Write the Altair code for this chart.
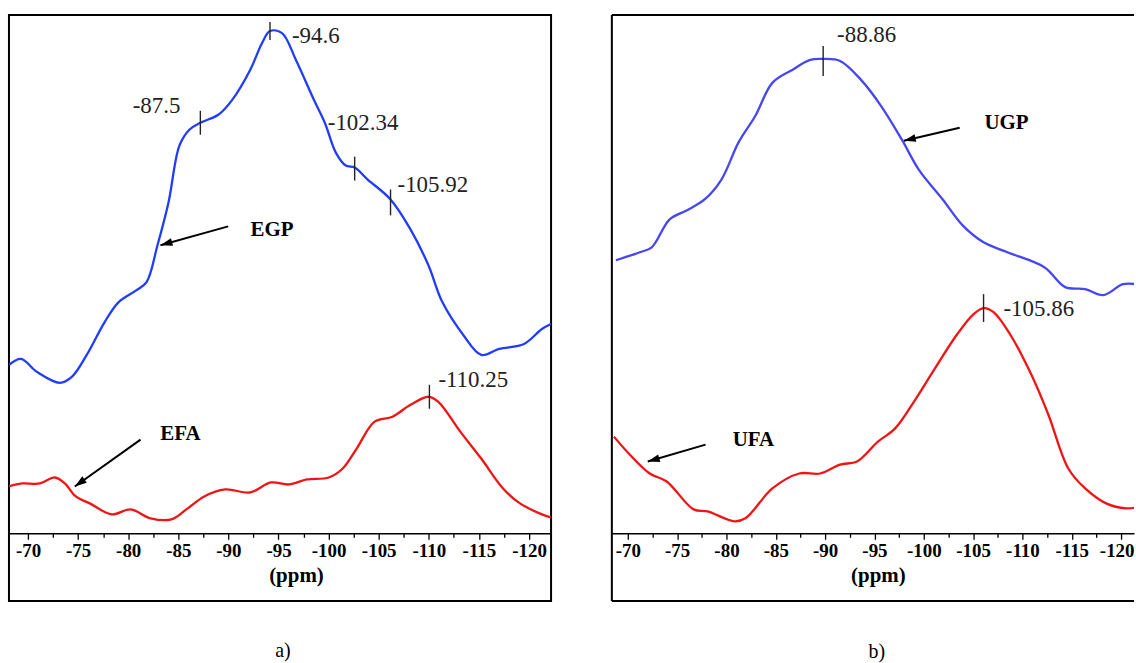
import altair as alt
import pandas as pd

# ---------------- data (intensity in arbitrary units) ----------------
# panel a)
egp_ppm = [-68.11, -69.30, -70.89, -73.18, -74.37, -75.86, -77.65, -79.05, -80.83, -81.83,
           -82.92, -84.02, -85.11, -86.10, -87.20, -88.99, -90.38, -92.17, -93.36, -94.15,
           -95.35, -96.74, -98.53, -99.62, -100.72, -101.71, -102.60, -103.90, -106.18, -108.17,
           -109.96, -111.35, -113.44, -115.23, -117.02, -119.50, -121.29, -122.19]
egp_int = [169, 175, 162, 151, 157, 179, 212, 232, 244, 252,
           289, 332, 389, 405, 412, 420, 435, 465, 492, 504,
           502, 475, 435, 412, 382, 369, 367, 355, 335, 305,
           269, 232, 199, 179, 185, 190, 205, 210]

efa_ppm = [-68.11, -69.40, -71.19, -72.68, -73.68, -74.77, -76.16, -78.35, -80.24, -82.23,
           -84.31, -85.80, -87.59, -89.68, -92.17, -94.25, -96.04, -97.83, -100.02, -101.41,
           -102.80, -104.59, -106.38, -108.17, -109.96, -110.95, -113.14, -115.23, -117.41, -119.10,
           -121.29, -122.19]
efa_int = [47, 50, 50, 56, 50, 37, 30, 19, 24, 15,
           14, 24, 37, 44, 41, 51, 49, 54, 56, 65,
           85, 112, 117, 129, 137, 132, 102, 75, 45, 30,
           19, 16]

# panel b)
ugp_ppm = [-68.79, -71.21, -72.42, -74.24, -75.96, -77.78, -79.49, -81.21, -82.93, -84.65,
           -86.67, -88.48, -89.80, -91.52, -93.64, -95.66, -97.78, -99.49, -101.92, -103.94,
           -106.06, -108.48, -112.22, -114.34, -116.36, -118.18, -120.20, -121.52]
ugp_int = [274, 282, 287, 315, 324, 335, 355, 392, 419, 452,
           465, 475, 476, 474, 455, 429, 395, 365, 335, 309,
           292, 282, 267, 247, 245, 239, 250, 250]

ufa_ppm = [-68.59, -70.10, -72.22, -73.94, -76.67, -78.08, -80.81, -81.92, -84.65, -87.37,
           -89.49, -91.52, -93.23, -95.35, -97.07, -99.19, -100.91, -103.33, -105.05, -106.06,
           -107.07, -108.79, -110.91, -112.63, -114.65, -116.36, -118.48, -120.51, -121.52]
ufa_int = [97, 80, 60, 52, 24, 22, 12, 15, 45, 60,
           60, 69, 72, 92, 105, 135, 162, 199, 220, 226,
           222, 199, 159, 119, 65, 45, 30, 25, 26]

# peak markers
a_peak_labels = ["-94.6", "-87.5", "-102.34", "-105.92", "-110.25"]
a_peak_ppm = [-94.15, -87.20, -102.60, -106.18, -110.06]
a_peak_int = [504, 412, 366, 332, 137]
b_peak_labels = ["-88.86", "-105.86"]
b_peak_ppm = [-89.80, -106.06]
b_peak_int = [474, 226]

# arrows with series names
a_names = ["EGP", "EFA"]
a_tail_ppm = [-89.98, -81.23]
a_tail_int = [308, 94]
a_tip_ppm = [-83.22, -74.67]
a_tip_int = [289, 47]
a_name_ppm = [-94.35, -85.21]
a_name_int = [304, 100]

b_names = ["UGP", "UFA"]
b_tail_ppm = [-103.64, -77.88]
b_tail_int = [407, 89]
b_tip_ppm = [-97.98, -72.02]
b_tip_int = [394, 72]
b_name_ppm = [-108.38, -82.73]
b_name_int = [412, 94]

tick_values = [-70, -72.5, -75, -77.5, -80, -82.5, -85, -87.5, -90, -92.5, -95,
               -97.5, -100, -102.5, -105, -107.5, -110, -112.5, -115, -117.5, -120]

# ---------------- styles ----------------
SERIF = "Liberation Serif"
BLUE_A = "#1f3cff"
BLUE_B = "#4646f2"
RED = "#f01414"
PEAK_STYLE = {  # half-length of the marker, text offsets, alignment
    "-94.6": (9, 22, 5, "left"),
    "-87.5": (12, -20, -17, "right"),
    "-102.34": (12, -27, -46, "left"),
    "-105.92": (13, 7, -17, "left"),
    "-110.25": (12, 9, -17, "left"),
    "-88.86": (15, 14, -26, "left"),
    "-105.86": (14, 20, 1, "left"),
}
ARROW_ANGLE = {"EGP": 254.4, "EFA": 234.5, "UGP": 256.9, "UFA": 253.7}
HEAD = "M0,0L1.3,4L-1.3,4Z"
H = 588
Y_DOMAIN = [-68, 520]
AXIS_OFFSET = -(H - H * Y_DOMAIN[1] / (Y_DOMAIN[1] - Y_DOMAIN[0]))


def panel(curves, peaks, arrows, x_domain, width, caption, cap_dx, title_x, framed):
    xs = alt.Scale(domain=x_domain, nice=False, zero=False)
    ys = alt.Scale(domain=Y_DOMAIN, nice=False, zero=False)
    axis = alt.Axis(
        values=tick_values, offset=AXIS_OFFSET,
        grid=False, domainColor="black", domainWidth=1.6, tickColor="black", tickWidth=1.3,
        tickSize={"condition": {"test": "datum.value % 5 === 0", "value": 6}, "value": 4},
        labelExpr="datum.value % 5 === 0 ? '-' + abs(datum.value) : ''",
        labelFont=SERIF, labelFontSize=19, labelFontWeight="bold", labelColor="black",
        labelPadding=2, labelOverlap=False, labelFlush=14, labelFlushOffset=13,
        title="(ppm)", titleFont=SERIF, titleFontSize=21, titleFontWeight="bold",
        titleColor="black", titlePadding=4, titleX=title_x,
    )

    def X(field):
        return alt.X(field, type="quantitative", scale=xs, axis=axis)

    def Y(field):
        return alt.Y(field, type="quantitative", scale=ys, axis=None)

    layers = []
    for ppm, inten, color in curves:
        df = pd.DataFrame({"ppm": ppm, "v": inten})
        layers.append(
            alt.Chart(df).mark_line(color=color, strokeWidth=2.3, clip=True,
                                    interpolate="catmull-rom").encode(x=X("ppm"), y=Y("v"))
        )
    labels, pp, pv = peaks
    halves = [PEAK_STYLE[l][0] for l in labels]
    pdf = pd.DataFrame({"label": labels, "ppm": pp, "v": pv, "half": halves})
    pdf["lo"] = pdf["v"] - pdf["half"]
    pdf["hi"] = pdf["v"] + pdf["half"]
    layers.append(
        alt.Chart(pdf).mark_rule(color="#222222", strokeWidth=1.4).encode(
            x=X("ppm"), y=Y("lo"), y2="hi:Q")
    )
    for i, lab in enumerate(labels):
        _, dx, dy, align = PEAK_STYLE[lab]
        layers.append(
            alt.Chart(pdf.iloc[[i]]).mark_text(
                font=SERIF, fontSize=23, color="#222222", align=align, baseline="middle", dx=dx, dy=dy
            ).encode(x=X("ppm"), y=Y("v"), text="label:N")
        )
    names, tp, ti, hp, hi, npp, ni = arrows
    adf = pd.DataFrame({"name": names, "tp": tp, "ti": ti, "hp": hp, "hi": hi, "np": npp, "ni": ni,
                        "ang": [ARROW_ANGLE[n] for n in names]})
    layers.append(
        alt.Chart(adf).mark_rule(color="black", strokeWidth=2).encode(
            x=X("tp"), x2="hp:Q", y=Y("ti"), y2="hi:Q")
    )
    layers.append(
        alt.Chart(adf).mark_point(shape=HEAD, filled=True, size=36, color="black", opacity=1).encode(
            x=X("hp"), y=Y("hi"), angle=alt.Angle("ang:Q", scale=None))
    )
    layers.append(
        alt.Chart(adf).mark_text(font=SERIF, fontSize=21, fontWeight="bold", color="black",
                                 align="center", baseline="middle").encode(
            x=X("np"), y=Y("ni"), text="name:N")
    )
    if not framed:
        one = pd.DataFrame({"k": [0]})
        frame = alt.Chart(one).mark_rule(color="black", strokeWidth=2)
        layers.append(frame.encode(x=alt.value(0), x2=alt.value(width), y=alt.value(0)))
        layers.append(frame.encode(x=alt.value(0), y=alt.value(0), y2=alt.value(H)))
        layers.append(frame.encode(x=alt.value(0), x2=alt.value(width), y=alt.value(H)))
    props = dict(
        width=width, height=H,
        title=alt.TitleParams(text=caption, orient="bottom", anchor="middle", font=SERIF,
                              fontSize=20, fontWeight="normal", color="black", offset=40, dx=cap_dx),
    )
    if not framed:
        props["view"] = alt.ViewBackground(stroke="transparent")
    return alt.layer(*layers).properties(**props)


left = panel(
    [(egp_ppm, egp_int, BLUE_A), (efa_ppm, efa_int, RED)],
    (a_peak_labels, a_peak_ppm, a_peak_int),
    (a_names, a_tail_ppm, a_tail_int, a_tip_ppm, a_tip_int, a_name_ppm, a_name_int),
    [-68.1, -122.2], 544, "a)", 3, 288, True,
)
right = panel(
    [(ugp_ppm, ugp_int, BLUE_B), (ufa_ppm, ufa_int, RED)],
    (b_peak_labels, b_peak_ppm, b_peak_int),
    (b_names, b_tail_ppm, b_tail_int, b_tip_ppm, b_tip_int, b_name_ppm, b_name_int),
    [-68.38, -121.31], 524, "b)", 4, 267, False,
)

chart = alt.hconcat(left, right, spacing=58).properties(
    padding={"left": 8, "top": 12, "right": 0, "bottom": 0}, background="white"
).configure_view(stroke="black", strokeWidth=2)

chart.save("out.html", embed_options={"renderer": "svg", "actions": False})
